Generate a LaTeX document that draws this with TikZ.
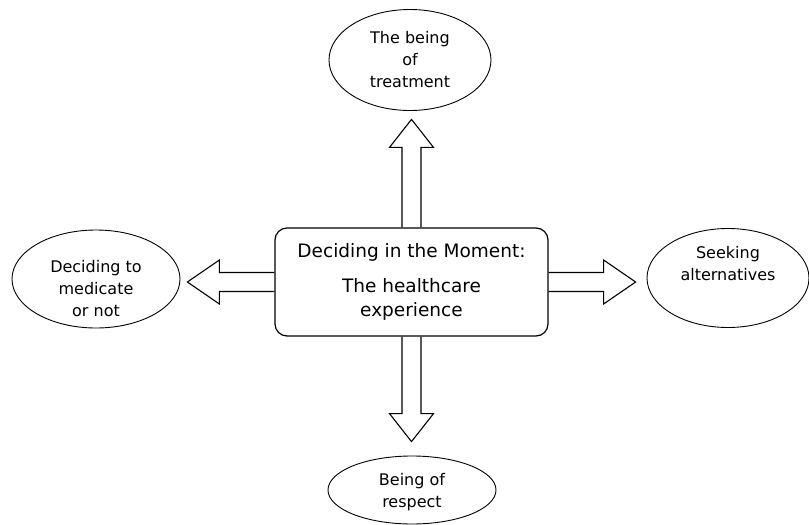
\documentclass[tikz,border=0pt]{standalone}
\usepackage{fontspec}
\setmainfont{DejaVu Sans}
\usetikzlibrary{shapes.geometric, calc}

% block arrow: start, direction, length, head length
\newcommand{\blockarrow}[4]{%
  \draw[blockline, shift={(#1)}, rotate=#2] (0,-9.5) -- ({#3-#4},-9.5) -- ({#3-#4},-22) -- (#3,0)
    -- ({#3-#4},22) -- ({#3-#4},9.5) -- (0,9.5);}

\tikzset{
  mainbox/.style={draw, rounded corners=12pt, line width=1.2pt, minimum width=273pt,
    minimum height=108pt, inner sep=0pt, align=center, font=\fontsize{18.5}{24}\selectfont},
  bubble/.style={draw, ellipse, line width=0.9pt, inner sep=0pt},
  bubbletext/.style={align=center, inner sep=0pt, font=\fontsize{16}{22}\selectfont},
  blockline/.style={line width=1.1pt, line join=miter}
}

\begin{document}
\begin{tikzpicture}[x=1pt, y=1pt]
\useasboundingbox (0,0) rectangle (809,-525);

\node (core)[mainbox] at (411.5,-282) {Deciding in the Moment:\\[11pt]The healthcare\\experience};

\node (treat)[bubble, minimum width=162pt, minimum height=101pt] at (410,-60) {};
\node (treattext)[bubbletext] at (treat.center) {The being\\of\\treatment};
\node (med)[bubble, minimum width=168pt, minimum height=98pt] at (96,-279) {};
\node (medtext)[bubbletext] at ($(med.center)+(0,-10)$) {Deciding to\\medicate\\or not};
\node (alt)[bubble, minimum width=162pt, minimum height=99pt] at (728,-278) {};
\node (alttext)[bubbletext] at ($(alt.center)+(0,14)$) {Seeking\\alternatives};
\node (resp)[bubble, minimum width=168pt, minimum height=68pt] at (412,-490) {};
\node (resptext)[bubbletext] at ($(resp.center)+(0,-2)$) {Being of\\respect};

\blockarrow{core.north}{90}{108}{28}
\blockarrow{core.south}{-90}{105}{28}
\blockarrow{core.west}{180}{87}{32}
\blockarrow{core.east}{0}{87}{32}
\end{tikzpicture}
\end{document}
